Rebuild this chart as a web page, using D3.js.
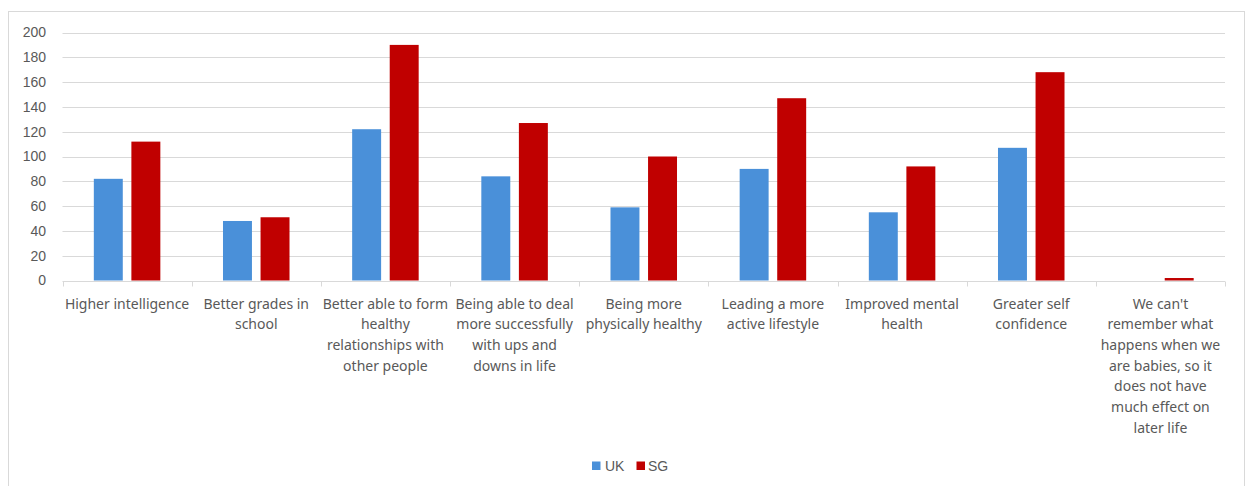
<!DOCTYPE html>
<html>
<head>
<meta charset="utf-8">
<script src="https://cdn.jsdelivr.net/npm/d3@7"></script>
<style>
  html, body { margin: 0; padding: 0; background: #ffffff; }
  svg { display: block; }
</style>
</head>
<body>
<div id="chart"></div>
<script>
// Survey responses: perceived long-term benefits, UK vs SG
const categories = [
  "Higher intelligence",
  "Better grades in\nschool",
  "Better able to form\nhealthy\nrelationships with\nother people",
  "Being able to deal\nmore successfully\nwith ups and\ndowns in life",
  "Being more\nphysically healthy",
  "Leading a more\nactive lifestyle",
  "Improved mental\nhealth",
  "Greater self\nconfidence",
  "We can't\nremember what\nhappens when we\nare babies, so it\ndoes not have\nmuch effect on\nlater life"
];
const seriesNames = ["UK", "SG"];
const ukValues = [82, 48, 122, 84, 59, 90, 55, 107, 0];
const sgValues = [112, 51, 190, 127, 100, 147, 92, 168, 2];
const yTicks = [0, 20, 40, 60, 80, 100, 120, 140, 160, 180, 200];

const colors = { UK: "#4A90D9", SG: "#C00000" };

const W = 1246, H = 486;
const plot = { left: 62.5, right: 1225, top: 32.5, bottom: 280.5 };

const svg = d3.select("#chart").append("svg")
  .attr("width", W).attr("height", H);

// outer chart frame
svg.append("rect")
  .attr("x", 8.5).attr("y", 11.5)
  .attr("width", 1236).attr("height", 490)
  .attr("fill", "#ffffff").attr("stroke", "#d9d9d9").attr("stroke-width", 1);

const x0 = d3.scaleBand()
  .domain(d3.range(categories.length))
  .range([plot.left, plot.right])
  .padding(0);

const groupFrac = 0.515;
const x1 = d3.scaleBand()
  .domain(seriesNames)
  .range([0, x0.bandwidth() * groupFrac])
  .paddingInner(0.229)
  .paddingOuter(0);
const groupOffset = (x0.bandwidth() - x0.bandwidth() * groupFrac) / 2;

const y = d3.scaleLinear().domain([0, 200]).range([plot.bottom, plot.top]);

// horizontal gridlines
svg.append("g")
  .selectAll("line")
  .data(yTicks.filter(t => t !== 0))
  .join("line")
  .attr("x1", plot.left).attr("x2", plot.right)
  .attr("y1", d => Math.round(y(d)) + 0.5).attr("y2", d => Math.round(y(d)) + 0.5)
  .attr("stroke", "#d9d9d9").attr("stroke-width", 1);

// y axis labels
const yAxis = d3.axisLeft(y).tickValues(yTicks).tickSize(0).tickPadding(0);
const gy = svg.append("g")
  .attr("transform", `translate(46,0)`)
  .call(yAxis);
gy.select(".domain").remove();
gy.selectAll("text")
  .attr("font-family", "'Liberation Sans', Arial, sans-serif")
  .attr("font-size", 14)
  .attr("fill", "#595959");

// bars
const seriesData = { UK: ukValues, SG: sgValues };
const groups = svg.append("g")
  .selectAll("g")
  .data(categories.map((c, i) => i))
  .join("g")
  .attr("transform", i => `translate(${x0(i) + groupOffset},0)`);

groups.selectAll("rect")
  .data(i => seriesNames.map(s => ({ s, v: seriesData[s][i] })))
  .join("rect")
  .attr("x", d => x1(d.s))
  .attr("width", x1.bandwidth())
  .attr("y", d => y(d.v))
  .attr("height", d => y(0) - y(d.v))
  .attr("fill", d => colors[d.s]);

// category axis line and tick marks
const axisY = Math.round(y(0)) + 0.5;
svg.append("line")
  .attr("x1", plot.left).attr("x2", plot.right)
  .attr("y1", axisY).attr("y2", axisY)
  .attr("stroke", "#d9d9d9").attr("stroke-width", 1);
const tickXs = categories.map((c, i) => x0(i)).concat([plot.right]);
svg.append("g").selectAll("line")
  .data(tickXs)
  .join("line")
  .attr("x1", d => Math.round(d) + 0.5).attr("x2", d => Math.round(d) + 0.5)
  .attr("y1", axisY).attr("y2", axisY + 5)
  .attr("stroke", "#d9d9d9").attr("stroke-width", 1);

// category labels, centred under each group
const labels = svg.append("g")
  .selectAll("text")
  .data(categories)
  .join("text")
  .attr("x", (c, i) => x0(i) + x0.bandwidth() / 2)
  .attr("y", 308.5)
  .attr("text-anchor", "middle")
  .attr("font-family", "'Noto Sans', sans-serif")
  .attr("font-size", 14)
  .attr("fill", "#595959");
labels.each(function (c) {
  const t = d3.select(this);
  c.split("\n").forEach((line, k) => {
    t.append("tspan")
      .attr("x", t.attr("x"))
      .attr("dy", k === 0 ? 0 : 20.7)
      .text(line);
  });
});

// legend
const legend = svg.append("g").attr("transform", "translate(592,461)");
const legendItems = [
  { name: "UK", x: 0, tx: 13 },
  { name: "SG", x: 44.5, tx: 56 }
];
legend.selectAll("rect")
  .data(legendItems)
  .join("rect")
  .attr("x", d => d.x).attr("y", 0.5)
  .attr("width", 8.5).attr("height", 8.5)
  .attr("fill", d => colors[d.name]);
legend.selectAll("text")
  .data(legendItems)
  .join("text")
  .attr("x", d => d.tx).attr("y", 9.5)
  .attr("font-family", "'Liberation Sans', Arial, sans-serif")
  .attr("font-size", 14)
  .attr("fill", "#595959")
  .text(d => d.name);
</script>
</body>
</html>
